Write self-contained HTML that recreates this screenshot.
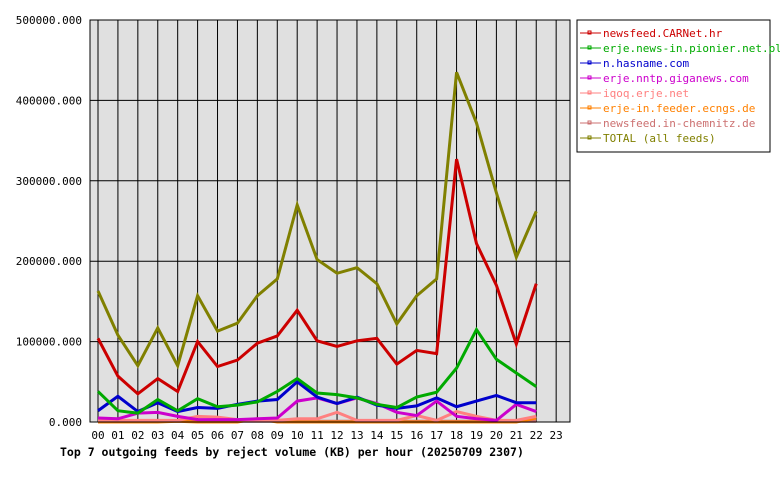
<!DOCTYPE html>
<html><head><meta charset="utf-8"><style>
body{margin:0;background:#fff;}
svg text{font-family:"DejaVu Sans Mono","Liberation Mono",monospace;}
</style></head><body>
<svg width="780" height="480" xmlns="http://www.w3.org/2000/svg">
<rect x="90" y="20" width="480" height="402" fill="#e0e0e0"/>
<g id="grid"></g>
<g id="series"></g>
<rect x="90" y="20" width="480" height="402" fill="none" stroke="#000" stroke-width="1"/>
<g id="axes"></g>
<text x="60" y="456" font-size="11.5" font-weight="bold">Top 7 outgoing feeds by reject volume (KB) per hour (20250709 2307)</text>
<g id="legend"></g>
</svg>
<script>
const hours=["00","01","02","03","04","05","06","07","08","09","10","11","12","13","14","15","16","17","18","19","20","21","22","23"];
const yTicks=[0,100000,200000,300000,400000,500000];
const names=["newsfeed.CARNet.hr","erje.news-in.pionier.net.pl","n.hasname.com","erje.nntp.giganews.com","iqoq.erje.net","erje-in.feeder.ecngs.de","newsfeed.in-chemnitz.de","TOTAL (all feeds)"];
const colors=["#cc0000","#00aa00","#0000cc","#cc00cc","#ff8080","#ff8000","#cc7070","#808000"];
const carnet=[104,57,35,54,38,100,69,77,98,107,139,101,94,101,104,72,89,85,327,222,170,97,172];
const pionier=[38,14,11,28,14,29,19,21,25,38,54,36,34,30,22,18,31,37,67,115,78,61,44];
const hasname=[14,32,13,24,13,18,17,22,26,28,50,31,23,31,21,17,20,30,19,26,33,24,24];
const giganews=[5,4,11,12,7,3,3,3,4,5,26,30,23,30,23,12,8,26,7,4,2,22,13];
const iqoq=[2,2,2,2,2,7,6,3,2,2,4,4,12,2,2,2,8,2,13,7,2,2,7];
const ecngs=[0,0,0,0,1,0,0,0,4,0,0,0,0,0,0,0,0,0,0,0,0,0,5];
const chemnitz=[1,1,1,1,1,1,1,1,1,1,1,1,1,1,1,1,1,1,1,1,1,1,1];
const total=[163,108,70,117,70,157,113,123,157,178,270,202,185,192,172,122,157,178,435,372,285,205,262];
const series=[carnet,pionier,hasname,giganews,iqoq,ecngs,chemnitz,total];
const NS="http://www.w3.org/2000/svg";
const xS=i=>98+i*19.92;
const yS=v=>422-v*402/500000;
function mk(t,a,p){const e=document.createElementNS(NS,t);for(const k in a)e.setAttribute(k,a[k]);p.appendChild(e);return e;}
const grid=document.getElementById('grid'),axes=document.getElementById('axes');
hours.forEach((h,i)=>{
 const l=mk('line',{x1:xS(i),x2:xS(i),y1:20,y2:422,stroke:'#000','stroke-width':1},grid);
 
 
 const t=mk('text',{x:xS(i),y:439,'font-size':11,'text-anchor':'middle'},axes);
 t.textContent=h;
 
 
});
yTicks.forEach(v=>{
 const l=mk('line',{x1:90,x2:570,y1:yS(v),y2:yS(v),stroke:'#000','stroke-width':1},grid);
 
 
 const t=mk('text',{x:82,y:yS(v)+4,'font-size':11,'text-anchor':'end'},axes);
 t.textContent=v.toFixed(3);
 
 
});
const sg=document.getElementById('series');
for(let s=series.length-1;s>=0;s--){
 const pts=series[s].map((v,i)=>xS(i)+','+yS(v*1000)).join(' ');
 const p=mk('polyline',{points:pts,fill:'none',stroke:colors[s],'stroke-width':3,'stroke-linejoin':'miter'},sg);
 
 
}
const lg=document.getElementById('legend');
const box=mk('rect',{x:577,y:20,width:193,height:132,fill:'#fff',stroke:'#000','stroke-width':1},lg);


names.forEach((n,i)=>{
 const y=33+i*15;
 const g=mk('g',{},lg);
 
 
 mk('line',{x1:580,x2:601,y1:y,y2:y,stroke:colors[i],'stroke-width':1},g);
 mk('rect',{x:588,y:y-2,width:3,height:3,fill:'none',stroke:colors[i],'stroke-width':1},g);
 const t=mk('text',{x:603,y:y+4,'font-size':11,fill:colors[i]},g);
 t.textContent=n;
});
</script>
</body></html>
